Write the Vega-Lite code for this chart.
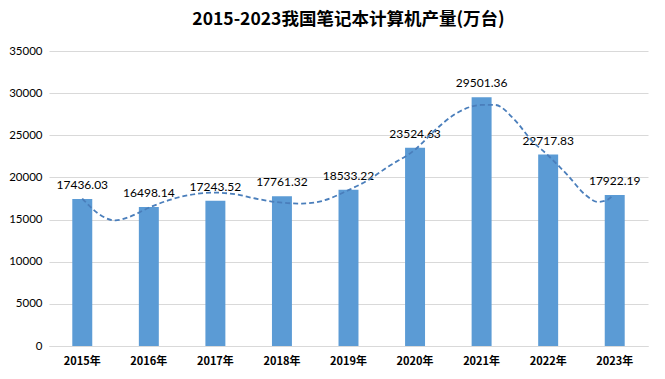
{
  "$schema": "https://vega.github.io/schema/vega-lite/v6.json",
  "autosize": {"type": "none"},
  "width": 599,
  "height": 295,
  "padding": {"left": 49, "top": 51, "right": 17, "bottom": 33},
  "background": "white",
  "title": {
    "text": "2015-2023我国笔记本计算机产量(万台)",
    "font": "Noto Sans CJK SC",
    "fontSize": 17.5,
    "fontWeight": "bold",
    "color": "#000000",
    "anchor": "middle",
    "offset": 17
  },
  "datasets": {
    "bars": [
      {"year": "2015年", "value": 17436.03},
      {"year": "2016年", "value": 16498.14},
      {"year": "2017年", "value": 17243.52},
      {"year": "2018年", "value": 17761.32},
      {"year": "2019年", "value": 18533.22},
      {"year": "2020年", "value": 23524.63},
      {"year": "2021年", "value": 29501.36},
      {"year": "2022年", "value": 22717.83},
      {"year": "2023年", "value": 17922.19}
    ],
    "trend": [
      {"t": 2015.0, "v": 17500},
      {"t": 2015.15, "v": 16300},
      {"t": 2015.3, "v": 15400},
      {"t": 2015.5, "v": 14900},
      {"t": 2015.7, "v": 15300},
      {"t": 2016.0, "v": 16400},
      {"t": 2016.3, "v": 17300},
      {"t": 2016.6, "v": 17900},
      {"t": 2017.0, "v": 18200},
      {"t": 2017.3, "v": 18000},
      {"t": 2017.6, "v": 17500},
      {"t": 2018.0, "v": 17000},
      {"t": 2018.3, "v": 16900},
      {"t": 2018.6, "v": 17200},
      {"t": 2019.0, "v": 18500},
      {"t": 2019.3, "v": 19700},
      {"t": 2019.6, "v": 21300},
      {"t": 2020.0, "v": 23300},
      {"t": 2020.3, "v": 25600},
      {"t": 2020.6, "v": 27500},
      {"t": 2021.0, "v": 28600},
      {"t": 2021.2, "v": 28600},
      {"t": 2021.5, "v": 26800},
      {"t": 2021.75, "v": 24400},
      {"t": 2022.0, "v": 22600},
      {"t": 2022.3, "v": 20200},
      {"t": 2022.55, "v": 18000},
      {"t": 2022.75, "v": 17100},
      {"t": 2022.88, "v": 17300},
      {"t": 2022.95, "v": 17700}
    ]
  },
  "layer": [
    {
      "data": {"name": "bars"},
      "encoding": {
        "x": {
          "field": "year", "type": "nominal", "sort": null,
          "scale": {"paddingInner": 0.7, "paddingOuter": 0.35},
          "axis": {
            "title": null, "labelAngle": 0, "ticks": false, "domain": true,
            "domainColor": "#d9d9d9", "labelFont": "Noto Sans CJK SC",
            "labelFontSize": 11, "labelFontWeight": "bold", "labelColor": "#000000",
            "labelPadding": 9
          }
        },
        "y": {
          "field": "value", "type": "quantitative",
          "scale": {"domain": [0, 35000]},
          "axis": {
            "title": null, "values": [0, 5000, 10000, 15000, 20000, 25000, 30000, 35000],
            "format": "d", "domain": false, "ticks": false, "grid": true,
            "gridColor": "#d9d9d9", "labelFont": "Lato", "labelFontSize": 11.5,
            "labelColor": "#000000", "labelPadding": 7
          }
        }
      },
      "layer": [
        {"mark": {"type": "bar", "color": "#5b9bd5"}},
        {
          "mark": {"type": "text", "baseline": "alphabetic", "dy": -10, "font": "Lato", "fontSize": 12, "color": "#000000"},
          "encoding": {
            "text": {"field": "value", "type": "quantitative", "format": ".2f"}
          }
        }
      ]
    },
    {
      "data": {"name": "trend"},
      "mark": {"type": "line", "interpolate": "monotone", "color": "#4a7ebb", "strokeWidth": 1.8, "strokeDash": [5, 3]},
      "encoding": {
        "x": {"field": "t", "type": "quantitative", "scale": {"domain": [2014.5, 2023.5], "nice": false, "zero": false}, "axis": null},
        "y": {"field": "v", "type": "quantitative"}
      }
    }
  ],
  "resolve": {"scale": {"x": "independent"}},
  "config": {"view": {"stroke": null}}
}
